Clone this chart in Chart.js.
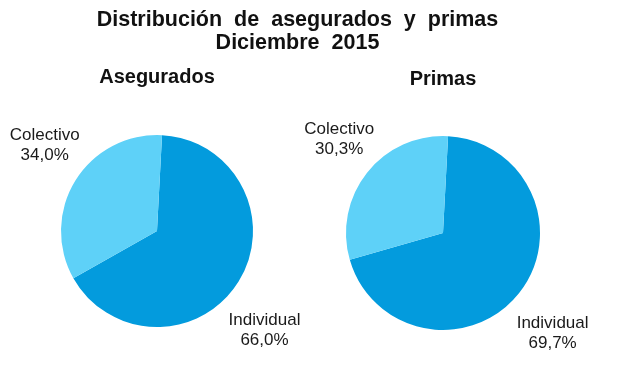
<!DOCTYPE html>
<html>
<head>
<meta charset="utf-8">
<script src="https://cdn.jsdelivr.net/npm/chart.js"></script>
<style>
	body { margin: 0; background: #fff; }
	#wrap { position: relative; width: 620px; height: 368px; }
	#title {
		position: absolute; left: 0; top: 8px; width: 595px;
		text-align: center; color: #111;
		font: bold 21.5px 'Liberation Sans', Arial, sans-serif;
		line-height: 23px; word-spacing: 6px;
	}
	canvas { position: absolute; top: 0; }
</style>
</head>
<body>
<div id="wrap">
	<canvas id="asegurados" width="310" height="368" style="left:0"></canvas>
	<canvas id="primas" width="340" height="368" style="left:280px"></canvas>
	<div id="title">Distribución de asegurados y primas<br>Diciembre 2015</div>
</div>
<script>
const categories = ['Individual', 'Colectivo'];
const aseguradosValues = [66.0, 34.0];
const primasValues = [69.7, 30.3];
const colors = ['#039BDD', '#5ED1F8'];

Chart.defaults.font.family = "'Liberation Sans', Arial, sans-serif";

// draws "Categoria / xx,x%" next to each slice
const sliceLabels = {
	id: 'sliceLabels',
	afterDatasetsDraw(chart, args, opts) {
		const ctx = chart.ctx;
		const meta = chart.getDatasetMeta(0);
		const values = chart.data.datasets[0].data;
		ctx.save();
		ctx.font = "17px 'Liberation Sans', Arial, sans-serif";
		ctx.fillStyle = '#1a1a1a';
		ctx.textAlign = 'center';
		ctx.textBaseline = 'alphabetic';
		meta.data.forEach((arc, i) => {
			const [fx, fy] = opts.offsets[i];
			const x = arc.x + fx * arc.outerRadius;
			const y = arc.y + fy * arc.outerRadius;
			ctx.fillText(chart.data.labels[i], x, y - 4);
			ctx.fillText(values[i].toFixed(1).replace('.', ',') + '%', x, y + 16);
		});
		ctx.restore();
	}
};

function pieConfig(title, values, padding, titlePadding, offsets) {
	return {
		type: 'pie',
		data: {
			labels: categories,
			datasets: [{
				data: values,
				backgroundColor: colors,
				borderWidth: 0,
			}]
		},
		options: {
			responsive: false,
			animation: false,
			rotation: 3,
			layout: {
				padding: padding,
			},
			plugins: {
				legend: { display: false },
				tooltip: { enabled: false },
				title: {
					display: true,
					text: title,
					color: '#111',
					font: { size: 20, weight: 'bold' },
					padding: titlePadding,
				},
				sliceLabels: { offsets: offsets },
			},
		},
		plugins: [sliceLabels],
	};
}

const aseguradosPlot = new Chart(document.getElementById('asegurados'),
	pieConfig('Asegurados', aseguradosValues,
		{ left: 61, right: 57, top: 0, bottom: 41 },
		{ top: 65, bottom: 46 },
		[[1.12, 1.02], [-1.17, -0.91]]));

const primasPlot = new Chart(document.getElementById('primas'),
	pieConfig('Primas', primasValues,
		{ left: 66, right: 80, top: 0, bottom: 38 },
		{ top: 67, bottom: 45 },
		[[1.13, 1.02], [-1.07, -0.98]]));
</script>
</body>
</html>
